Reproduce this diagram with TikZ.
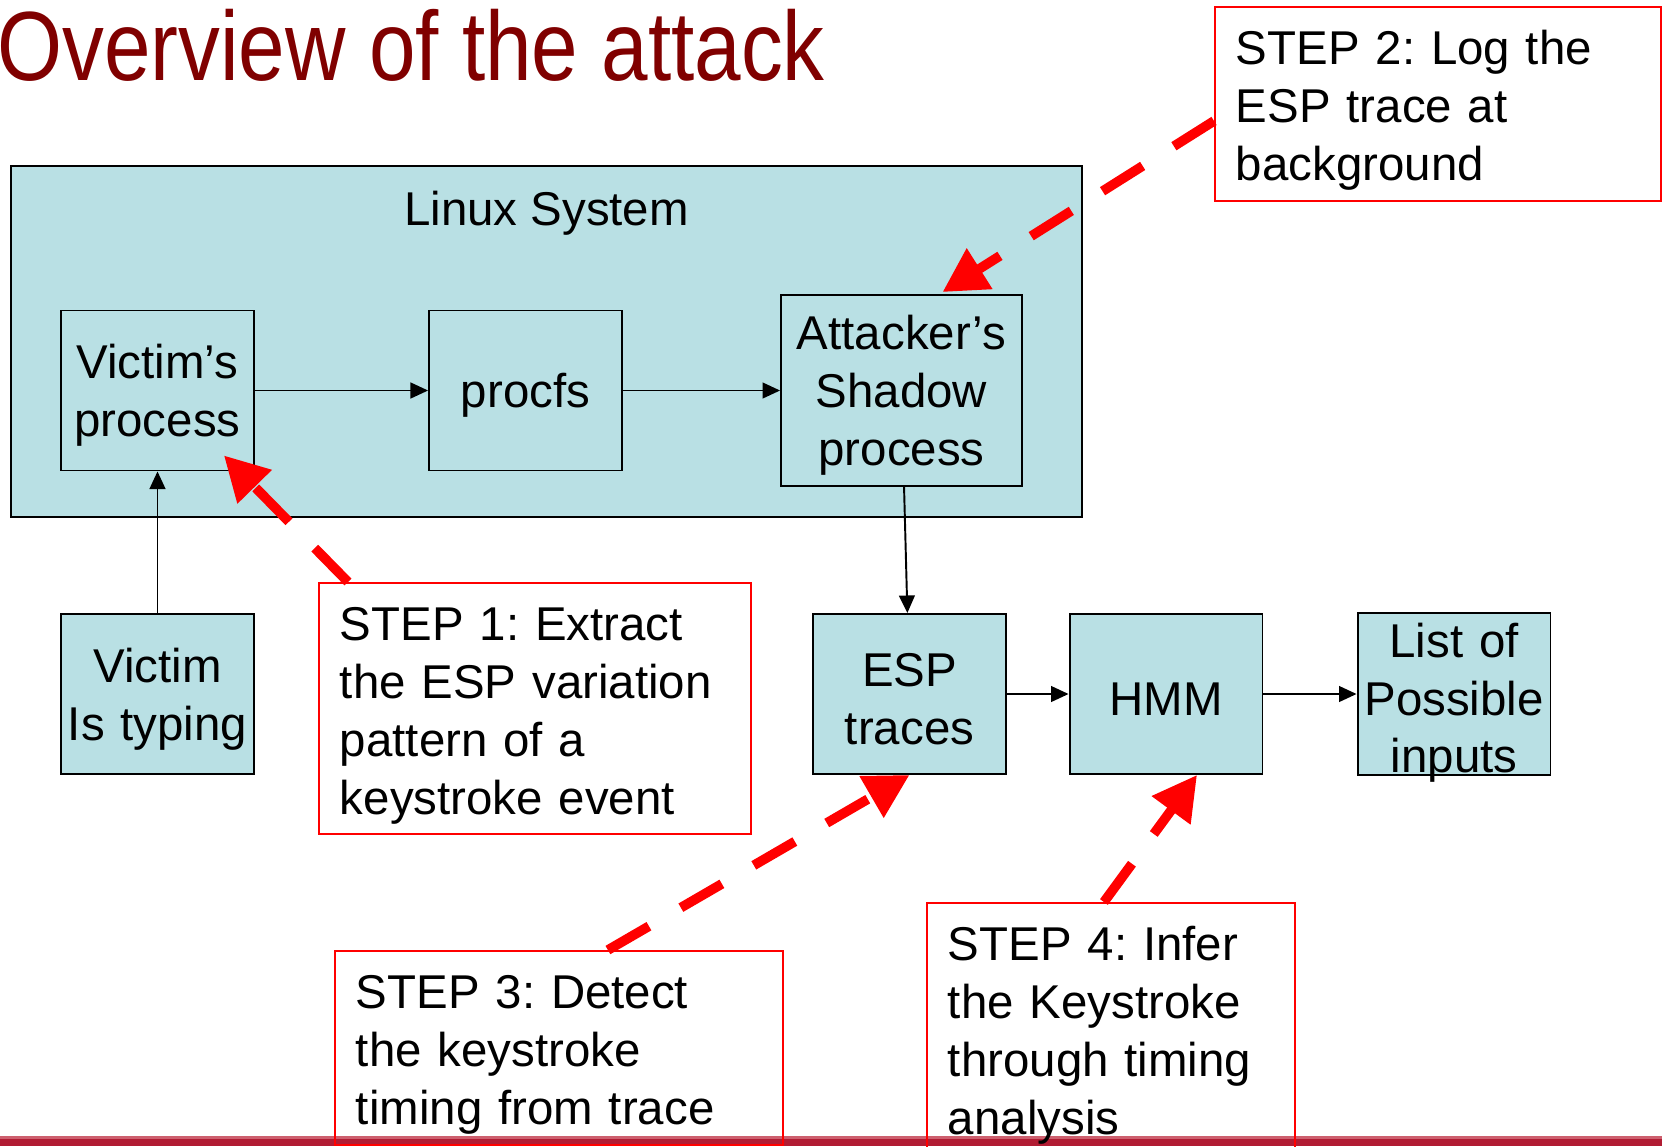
\documentclass[tikz,border=0pt]{standalone}
\usepackage{fontspec}
\setmainfont{Liberation Sans}
\newfontfamily\titlefont[FakeStretch=0.85]{Liberation Sans}
\usetikzlibrary{arrows.meta,calc}
\definecolor{boxblue}{RGB}{185,224,228}
\definecolor{titlered}{RGB}{128,0,0}
\definecolor{barred}{RGB}{177,28,51}
\definecolor{barpink}{RGB}{205,95,110}
\frenchspacing

\begin{document}
\begin{tikzpicture}[
        x=0.02cm, y=-0.02cm,
        blk/.style={rectangle, draw, line width=1.1pt, fill=boxblue, minimum width=3.86cm, minimum height=3.2cm, text width=3.86cm, align=center, inner sep=0pt, font=\fontsize{27}{33}\selectfont, execute at begin node=\rule{0pt}{25pt}},
        stepbox/.style={rectangle, draw=red, line width=1.1pt, anchor=north west, align=left, inner xsep=0.42cm, inner ysep=0pt, font=\fontsize{27}{33}\selectfont, execute at begin node=\rule{0pt}{27pt}},
        arrow/.style={-{Triangle[length=10pt, width=9pt]}, line width=1.1pt},
        redarrow/.style={-{Triangle[length=25pt, width=26pt]}, red, line width=5.5pt, dash pattern=on 27pt off 21pt}
    ]
        \useasboundingbox (0,0) rectangle (1662,1146);

        % Slide bar and title
        \fill[barpink] (0,1136) rectangle (1662,1139);
        \fill[barred] (0,1139) rectangle (1662,1146);
        \node[anchor=base west, inner sep=0pt, text=titlered, font=\titlefont\fontsize{56}{60}\selectfont] (title) at (-3,80) {Overview of the attack};

        % Linux system with its processes
        \node[blk, minimum width=21.42cm, minimum height=7.02cm, text width=21.42cm, execute at begin node={}] (linux) at (546.5,341.5) {};
        \node[anchor=base, font=\fontsize{27}{33}\selectfont] (linuxlbl) at (546.5,225) {Linux System};
        \node[blk] (victimproc) at (157.5,390.5) {Victim’s\\process};
        \node[blk] (procfs) at (525.5,390.5) {procfs};
        \node[blk, minimum width=4.82cm, minimum height=3.82cm, text width=4.82cm] (shadow) at (901.5,390.5) {Attacker’s\\Shadow\\process};

        % Outside the system
        \node[blk] (typing) at (157.5,694) {Victim\\Is typing};
        \node[blk] (esp) at (909.5,694) {ESP\\traces};
        \node[blk] (hmm) at (1166,694) {HMM};
        \node[blk, execute at begin node={}, execute at end node=\vspace*{-4.5pt}] (inputs) at (1454,694) {List of\\Possible\\inputs};

        % Steps
        \node[stepbox, text width=7.8cm, minimum height=5.02cm] (step1) at (318,582) {STEP 1: Extract\\the ESP variation\\pattern of a\\keystroke event};
        \node[stepbox, text width=8.08cm, minimum height=3.88cm] (step2) at (1214,6) {STEP 2: Log the\\ESP trace at\\background};
        \node[stepbox, text width=8.12cm, minimum height=3.88cm] (step3) at (334,950) {STEP 3: Detect\\the keystroke\\timing from trace};
        \node[stepbox, text width=6.52cm, minimum height=5.02cm] (step4) at (926,902) {STEP 4: Infer\\the Keystroke\\through timing\\analysis};

        % Data flow
        \draw[arrow] (typing) -- (victimproc);
        \draw[arrow] (victimproc) -- (procfs);
        \draw[arrow] (procfs) -- (shadow);
        \draw[arrow] (shadow) -- (esp);
        \draw[arrow] (esp) -- (hmm);
        \draw[arrow] (hmm) -- (inputs);

        % Step pointers
        \draw[redarrow] ($(step1.north west)+(30,0)$) -- ($(victimproc.south east)+(-31,-16)$);
        \draw[redarrow] ($(step2.west)+(0,17)$) -- ($(shadow.north)+(41,-2)$);
        \draw[redarrow] ($(step3.north)+(49,0)$) -- (esp.south);
        \draw[redarrow] ($(step4.north)+(-7,0)$) -- ($(hmm.south)+(31,0)$);
    \end{tikzpicture}
\end{document}
